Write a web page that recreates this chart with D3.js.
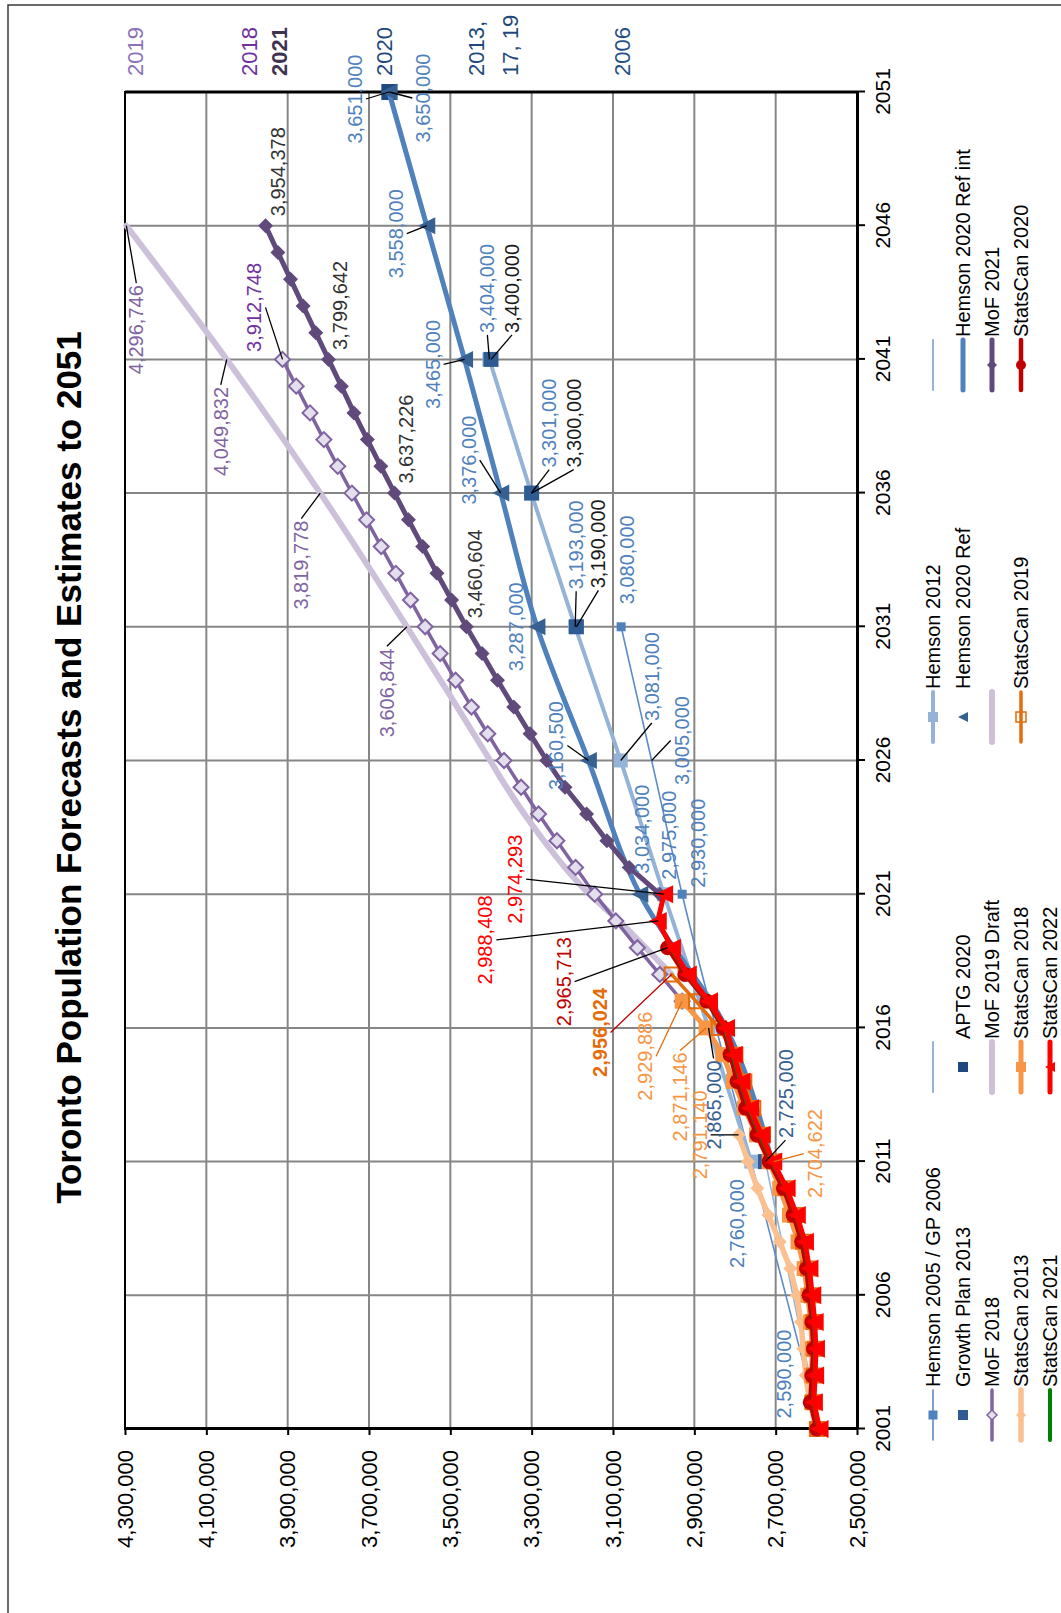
<!DOCTYPE html>
<html>
<head>
<meta charset="utf-8">
<script src="https://cdn.jsdelivr.net/npm/d3@7"></script>
<style>
  html, body { margin: 0; padding: 0; background: #fff; }
  svg { display: block; font-family: "Liberation Sans", Arial, sans-serif; }
</style>
</head>
<body>
<svg id="chart" width="1061" height="1613"></svg>
<script>
// ---------- tick labels ----------
const yearTicks = [2001, 2006, 2011, 2016, 2021, 2026, 2031, 2036, 2041, 2046, 2051];
const valueTicks = [2500000, 2700000, 2900000, 3100000, 3300000, 3500000, 3700000, 3900000, 4100000, 4300000];

// ---------- forecasts ----------
const hemson2005Years = [2001, 2011, 2021, 2026, 2031];
const hemson2005Values = [2590000, 2760000, 2930000, 3005000, 3080000];

const thinAYears = [2001, 2011];
const thinAValues = [2590000, 2725000];

const hemson2012Years = [2011, 2016, 2021, 2026, 2031, 2036, 2041];
const hemson2012Values = [2760000, 2865000, 2975000, 3081000, 3193000, 3301000, 3404000];

const gp2013Years = [2011, 2031, 2036, 2041];
const gp2013Values = [2725000, 3190000, 3300000, 3400000];

const aptg2020Years = [2051];
const aptg2020Values = [3650000];

const hemsonRefYears = [2011, 2016, 2021, 2026, 2031, 2036, 2041, 2046, 2051];
const hemsonRefValues = [2709000, 2822000, 3034000, 3160500, 3287000, 3376000, 3465000, 3558000, 3651000];

const mof2018Years = d3.range(2017, 2042);
const mof2018Values = [2929886, 2985000, 3040000, 3093000, 3145000, 3192000, 3238000, 3283000, 3326000, 3368000,
  3408000, 3448000, 3487000, 3525000, 3562000, 3598000, 3634000, 3670000, 3706000, 3742000,
  3777000, 3811000, 3845000, 3879000, 3912748];

const mof2019Years = [2018, 2019, 2020, 2021, 2022, 2023, 2024, 2025, 2026, 2031, 2036, 2041, 2046];
const mof2019Values = [2956024, 3020000, 3085000, 3158000, 3218000, 3270000, 3318000, 3362000, 3402000,
  3606844, 3819778, 4049832, 4296746];

const mof2021Years = d3.range(2021, 2047);
const mof2021Values = [2985000, 3060000, 3115000, 3165000, 3218000, 3263000, 3304000, 3344000, 3384000, 3422000,
  3460604, 3497000, 3533000, 3568000, 3603000, 3637226, 3671000, 3704000, 3737000, 3768000,
  3799642, 3831000, 3862000, 3893000, 3924000, 3954378];

// ---------- estimates ----------
const sc2013Years = d3.range(2001, 2013);
const sc2013Values = [2600000, 2616000, 2626000, 2632000, 2638000, 2648000, 2664000, 2690000, 2718000, 2745000, 2768000, 2791140];

const sc2018Years = d3.range(2001, 2018);
const sc2018Values = [2600000, 2612000, 2612000, 2610000, 2614000, 2621000, 2630000, 2645000, 2666000, 2690000,
  2716000, 2747000, 2777000, 2804000, 2830000, 2871146, 2929886];

const sc2019Years = d3.range(2001, 2019);
const sc2019Values = [2598000, 2608000, 2606000, 2604000, 2607000, 2612000, 2620000, 2633000, 2652000, 2676000,
  2704622, 2731000, 2755000, 2777000, 2799000, 2840000, 2896000, 2956024];

const sc2020Years = d3.range(2001, 2020);
const sc2020Values = [2599000, 2615000, 2611000, 2607000, 2611000, 2618000, 2624000, 2636000, 2657000, 2681000,
  2716000, 2746000, 2774000, 2795000, 2812000, 2829000, 2869000, 2923000, 2965713];

const sc2021Years = d3.range(2001, 2021);
const sc2021Values = [2594000, 2608000, 2605000, 2603000, 2606000, 2612000, 2619000, 2630000, 2650000, 2675000,
  2709000, 2738000, 2766000, 2787000, 2806000, 2825000, 2866000, 2918000, 2958000, 2988408];

const sc2022Years = d3.range(2001, 2022);
const sc2022Values = [2592000, 2606000, 2603000, 2601000, 2604000, 2610000, 2617000, 2628000, 2648000, 2673000,
  2706000, 2735000, 2763000, 2784000, 2803000, 2822000, 2864000, 2916000, 2955000, 2990000, 2974293];

// ---------- series styling ----------
const series = [
  { key: 'hemson2005', years: hemson2005Years, values: hemson2005Values, color: '#5B8BC9', width: 1.6, smooth: true, marker: 'square', r: 4.5, fill: '#4F81BD', bareYears: [2026] },
  { key: 'thinA', years: thinAYears, values: thinAValues, color: '#95B3D7', width: 1.6, smooth: true },
  { key: 'hemson2012', years: hemson2012Years, values: hemson2012Values, color: '#95B3D7', width: 4, smooth: true, marker: 'square', r: 7, fill: '#95B3D7' },
  { key: 'gp2013', years: gp2013Years, values: gp2013Values, width: 0, marker: 'square', r: 7.5, fill: '#2E5B93' },
  { key: 'aptg2020', years: aptg2020Years, values: aptg2020Values, width: 0, marker: 'square', r: 8, fill: '#1F497D' },
  { key: 'hemsonRefInt', years: hemsonRefYears, values: hemsonRefValues, color: '#4F81BD', width: 5, smooth: true },
  { key: 'hemsonRef', years: hemsonRefYears, values: hemsonRefValues, width: 0, marker: 'triangle', r: 8.5, fill: '#366092' },
  { key: 'mof2019', years: mof2019Years, values: mof2019Values, color: '#CCC0DA', width: 6, smooth: true },
  { key: 'mof2018', years: mof2018Years, values: mof2018Values, color: '#8064A2', width: 3.5, marker: 'diamond', r: 7.5, fill: '#E4DFEC', stroke: '#8064A2' },
  { key: 'mof2021', years: mof2021Years, values: mof2021Values, color: '#604A7B', width: 5, marker: 'diamond', r: 7.5, fill: '#604A7B' },
  { key: 'sc2013', years: sc2013Years, values: sc2013Values, color: '#FAC090', width: 5.5, marker: 'diamond', r: 7, fill: '#FAC090' },
  { key: 'sc2018', years: sc2018Years, values: sc2018Values, color: '#F79646', width: 5, marker: 'square', r: 7.5, fill: '#F79646' },
  { key: 'sc2019', years: sc2019Years, values: sc2019Values, color: '#E46C0A', width: 3.5, marker: 'square', r: 7, fill: 'none', stroke: '#E46C0A' },
  { key: 'sc2020', years: sc2020Years, values: sc2020Values, color: '#C00000', width: 4.5, marker: 'circle', r: 7.5, fill: '#C00000' },
  { key: 'sc2021', years: sc2021Years, values: sc2021Values, color: '#008000', width: 4 },
  { key: 'sc2022', years: sc2022Years, values: sc2022Values, color: '#FF0000', width: 5, marker: 'triangle', r: 9, fill: '#FF0000' }
];
const byKey = Object.fromEntries(series.map(s => [s.key, s]));

// ---------- legend (row by row, four columns) ----------
const legendItems = [
  { name: 'Hemson 2005 / GP 2006', key: 'hemson2005' },
  { name: '', line: '#95B3D7', lw: 2 },
  { name: 'Hemson 2012', key: 'hemson2012' },
  { name: '', line: '#95B3D7', lw: 2 },
  { name: 'Growth Plan 2013', key: 'gp2013' },
  { name: 'APTG 2020', key: 'aptg2020' },
  { name: 'Hemson 2020 Ref', key: 'hemsonRef' },
  { name: 'Hemson 2020 Ref int', key: 'hemsonRefInt' },
  { name: 'MoF 2018', key: 'mof2018' },
  { name: 'MoF 2019 Draft', key: 'mof2019' },
  { name: '', line: '#CCC0DA', lw: 6 },
  { name: 'MoF 2021', key: 'mof2021' },
  { name: 'StatsCan 2013', key: 'sc2013' },
  { name: 'StatsCan 2018', key: 'sc2018' },
  { name: 'StatsCan 2019', key: 'sc2019' },
  { name: 'StatsCan 2020', key: 'sc2020' },
  { name: 'StatsCan 2021', key: 'sc2021' },
  { name: 'StatsCan 2022', key: 'sc2022' }
];

// ---------- edition tags beside the end of each forecast ----------
const editionTags = [
  { lines: ['2019'], key: 'mof2019', shift: 9, color: '#8C72B8' },
  { lines: ['2018'], key: 'mof2018', shift: -33, color: '#7030A0' },
  { lines: ['2021'], key: 'mof2021', shift: 14, color: '#3F3151', bold: true },
  { lines: ['2020'], key: 'aptg2020', shift: -5, color: '#1F497D' },
  { lines: ['2013,', '17, 19'], key: 'gp2013', shift: 2, color: '#1F497D' },
  { lines: ['2006'], key: 'hemson2005', shift: 1, color: '#254F85' }
];

// ---------- value labels: placement relative to the labelled point ----------
// attach: 'u' joins the leader to the label's end, 'v' to its top/bottom edge
const labelSpecs = [
  { key: 'mof2021', year: 2046, dx: 54, dy: 12, color: '#333333' },
  { key: 'mof2021', year: 2041, dx: 54, dy: 12, color: '#333333' },
  { key: 'mof2021', year: 2036, dx: 54, dy: 11, color: '#333333' },
  { key: 'mof2021', year: 2031, dx: 53, dy: 9, color: '#333333' },
  { key: 'mof2019', year: 2046, dx: -104, dy: 10, color: '#8064A2', leader: '#000', attach: 'u' },
  { key: 'mof2019', year: 2041, dx: -72, dy: -6, color: '#8064A2', leader: '#000', attach: 'u' },
  { key: 'mof2019', year: 2036, dx: -72, dy: -19, color: '#8064A2', leader: '#000', attach: 'u' },
  { key: 'mof2019', year: 2031, dx: -66, dy: -20, color: '#8064A2', leader: '#000', attach: 'u' },
  { key: 'mof2018', year: 2041, dx: 52, dy: -28, color: '#7030A0', leader: '#000', attach: 'v' },
  { key: 'aptg2020', year: 2051, dx: -6, dy: 34, color: '#4F81BD', leader: '#000', attach: 'v' },
  { key: 'hemsonRef', year: 2051, dx: -7, dy: -34, color: '#4F81BD', leader: '#000', attach: 'v' },
  { key: 'hemsonRef', year: 2046, dx: -8, dy: -31, color: '#4F81BD', leader: '#000', attach: 'v' },
  { key: 'hemsonRef', year: 2041, dx: -5, dy: -32, color: '#4F81BD', leader: '#000', attach: 'v' },
  { key: 'hemsonRef', year: 2036, dx: 33, dy: -32, color: '#4F81BD', leader: '#000', attach: 'v' },
  { key: 'hemsonRef', year: 2031, dx: 0, dy: -21, color: '#4F81BD' },
  { key: 'hemsonRef', year: 2026, dx: 15, dy: -32, color: '#4F81BD', leader: '#000', attach: 'v' },
  { key: 'hemsonRef', year: 2021, dx: 65, dy: 2, color: '#4F81BD' },
  { key: 'hemson2012', year: 2041, dx: 71, dy: -2, color: '#4F81BD', leader: '#000', attach: 'u' },
  { key: 'gp2013', year: 2041, dx: 71, dy: 21, color: '#1a1a1a', leader: '#000', attach: 'u' },
  { key: 'hemson2012', year: 2036, dx: 70, dy: 18, color: '#4F81BD', leader: '#000', attach: 'u' },
  { key: 'gp2013', year: 2036, dx: 70, dy: 42, color: '#1a1a1a', leader: '#000', attach: 'u' },
  { key: 'hemson2012', year: 2031, dx: 82, dy: 1, color: '#4F81BD', leader: '#000', attach: 'u' },
  { key: 'gp2013', year: 2031, dx: 83, dy: 22, color: '#1a1a1a', leader: '#000', attach: 'u' },
  { key: 'hemson2012', year: 2026, dx: 84, dy: 31, color: '#4F81BD', leader: '#000', attach: 'u' },
  { key: 'hemson2005', year: 2026, dx: 20, dy: 30, color: '#4F81BD', leader: '#000', attach: 'v' },
  { key: 'hemson2012', year: 2021, dx: 59, dy: 5, color: '#4F81BD' },
  { key: 'hemson2005', year: 2021, dx: 51, dy: 16, color: '#4F81BD' },
  { key: 'hemson2005', year: 2031, dx: 67, dy: 6, color: '#4F81BD' },
  { key: 'hemson2012', year: 2016, dx: -77, dy: 5, color: '#376092', leader: '#000', attach: 'u' },
  { key: 'hemson2005', year: 2011, dx: -62, dy: -14, color: '#4F81BD' },
  { key: 'hemson2005', year: 2001, dx: 55, dy: -36, color: '#4F81BD' },
  { key: 'gp2013', year: 2011, dx: 68, dy: 20, color: '#376092', leader: '#000', attach: 'u' },
  { key: 'sc2019', year: 2011, dx: 8, dy: 41, color: '#F79646', leader: '#E46C0A', attach: 'v' },
  { key: 'sc2013', year: 2012, dx: 0, dy: -39, color: '#F79646', leader: '#000', attach: 'v' },
  { key: 'sc2018', year: 2016, dx: -69, dy: -26, color: '#F79646', leader: '#E46C0A', attach: 'u' },
  { key: 'sc2018', year: 2017, dx: -55, dy: -37, color: '#F79646', leader: '#E46C0A', attach: 'v' },
  { key: 'sc2019', year: 2018, dx: -58, dy: -72, color: '#E46C0A', leader: '#C00000', attach: 'v', bold: true },
  { key: 'sc2020', year: 2019, dx: -34, dy: -104, color: '#C00000', leader: '#000', attach: 'v' },
  { key: 'sc2021', year: 2020, dx: -19, dy: -173, color: '#FF0000', leader: '#000', attach: 'v' },
  { key: 'sc2022', year: 2021, dx: 15, dy: -149, color: '#FF0000', leader: '#000', attach: 'v' }
];

// ---------- drawing ----------
const W = 1337, H = 732;           // plot extent in the chart's own (unrotated) frame
const FONT = '"Liberation Sans", Arial, sans-serif';
const svg = d3.select('#chart');

svg.append('rect').attr('width', 1061).attr('height', 1613).attr('fill', '#fff');
// outer frame of the chart area
svg.append('rect').attr('x', 8).attr('y', 5).attr('width', 1200).attr('height', 1800)
  .attr('fill', 'none').attr('stroke', '#3a3a3a').attr('stroke-width', 1.5);

// the whole chart is laid out normally and then turned a quarter turn
const g = svg.append('g').attr('transform', 'translate(125,1429) rotate(-90)');

const x = d3.scaleLinear().domain([2001, 2051]).range([0, W]);
const y = d3.scaleLinear().domain([2500000, 4300000]).range([H, 0]);
const fmt = d3.format(',');

// gridlines
g.append('g').selectAll('line').data(valueTicks).join('line')
  .attr('x1', 0).attr('x2', W).attr('y1', d => y(d)).attr('y2', d => y(d))
  .attr('stroke', '#868686').attr('stroke-width', 2);
g.append('g').selectAll('line').data(yearTicks).join('line')
  .attr('x1', d => x(d)).attr('x2', d => x(d)).attr('y1', 0).attr('y2', H)
  .attr('stroke', '#868686').attr('stroke-width', 2);

g.append('rect').attr('width', W).attr('height', H).attr('fill', 'none')
  .attr('stroke', '#000').attr('stroke-width', 2);
g.append('line').attr('x1', W).attr('x2', W).attr('y1', 0).attr('y2', H)
  .attr('stroke', '#000').attr('stroke-width', 3);

// axes
const xAxis = g.append('g').attr('transform', `translate(0,${H})`)
  .call(d3.axisBottom(x).tickValues(yearTicks).tickFormat(d3.format('d'))
    .tickSizeInner(8).tickSizeOuter(0).tickPadding(10));
const yAxis = g.append('g')
  .call(d3.axisLeft(y).tickValues(valueTicks).tickFormat(fmt)
    .tickSizeInner(6).tickSizeOuter(0).tickPadding(15));
[xAxis, yAxis].forEach(a => {
  a.attr('font-family', FONT);
  a.select('.domain').attr('stroke', '#000').attr('stroke-width', 3);
  a.selectAll('.tick line').attr('stroke', '#000').attr('stroke-width', 2);
  a.selectAll('.tick text').attr('fill', '#000');
});
xAxis.attr('font-size', 21);
yAxis.attr('font-size', 22);

// markers
function markerPath(shape, r) {
  switch (shape) {
    case 'square': return `M${-r},${-r}H${r}V${r}H${-r}Z`;
    case 'diamond': return `M0,${-r}L${r},0L0,${r}L${-r},0Z`;
    case 'triangle': return `M0,${-r}L${r},${r}L${-r},${r}Z`;
    case 'circle': return `M${r},0A${r},${r} 0 1,1 ${-r},0A${r},${r} 0 1,1 ${r},0Z`;
  }
  return '';
}

const plot = g.append('g');
series.forEach(s => {
  const pts = s.years.map((yr, i) => [x(yr), y(s.values[i]), yr]);
  if (s.width > 0) {
    const line = d3.line().curve(s.smooth ? d3.curveMonotoneX : d3.curveLinear);
    plot.append('path').attr('d', line(pts.map(p => [p[0], p[1]]))).attr('fill', 'none')
      .attr('stroke', s.color).attr('stroke-width', s.width)
      .attr('stroke-linejoin', 'round').attr('stroke-linecap', 'round');
  }
  if (s.marker) {
    const marked = pts.filter(p => !(s.bareYears || []).includes(p[2]));
    plot.append('g').selectAll('path').data(marked).join('path')
      .attr('transform', d => `translate(${d[0]},${d[1]})`)
      .attr('d', markerPath(s.marker, s.r))
      .attr('fill', s.fill)
      .attr('stroke', s.stroke || 'none')
      .attr('stroke-width', s.stroke ? 2 : 0);
  }
});

// value labels with leader lines
const labelLayer = g.append('g').attr('font-family', FONT).attr('font-size', 20);
labelSpecs.forEach(spec => {
  const s = byKey[spec.key];
  const idx = s.years.indexOf(spec.year);
  const v = s.values[idx];
  const px = x(spec.year), py = y(v);
  const cx = px + spec.dx, cy = py + spec.dy;
  const t = labelLayer.append('text').attr('x', cx).attr('y', cy).attr('dy', '0.35em')
    .attr('text-anchor', 'middle').attr('fill', spec.color)
    .attr('font-weight', spec.bold ? 'bold' : null).text(fmt(v));
  if (spec.leader) {
    const hw = t.node().getComputedTextLength() / 2 + 2, hh = 11;
    const ex = spec.attach === 'u' ? cx + Math.sign(px - cx) * hw : cx;
    const ey = spec.attach === 'u' ? cy : cy + Math.sign(py - cy) * hh;
    if (Math.hypot(ex - px, ey - py) > 3) {
      labelLayer.insert('line', 'text').attr('x1', px).attr('y1', py).attr('x2', ex).attr('y2', ey)
        .attr('stroke', spec.leader).attr('stroke-width', 1.3);
    }
  }
});

// edition tags past the last year
const tagLayer = g.append('g').attr('font-family', FONT).attr('font-size', 22);
editionTags.forEach(tag => {
  const s = byKey[tag.key];
  const last = s.values[s.values.length - 1];
  const cy = y(last) + tag.shift;
  const n = tag.lines.length;
  tag.lines.forEach((ln, i) => {
    tagLayer.append('text').attr('x', W + 16).attr('y', cy + (i - (n - 1) / 2) * 34).attr('dy', '0.35em')
      .attr('fill', tag.color).attr('font-weight', tag.bold ? 'bold' : null).text(ln);
  });
});

// title
g.append('text').attr('x', W / 2 - 7).attr('y', -44).attr('text-anchor', 'middle')
  .attr('font-family', FONT).attr('font-size', 35).attr('font-weight', 'bold').attr('fill', '#000')
  .text('Toronto Population Forecasts and Estimates to 2051');

// legend
const legend = g.append('g').attr('font-family', FONT).attr('font-size', 20);
const colU = [14, 362, 712, 1064];
const rowV = [808, 838, 867, 896, 925];
legendItems.forEach((item, i) => {
  const u = colU[i % 4], v = rowV[Math.floor(i / 4)];
  const s = item.key ? byKey[item.key] : null;
  const lineColor = s ? s.color : item.line;
  const lw = s ? s.width : item.lw;
  if (lineColor && lw > 0) {
    legend.append('line').attr('x1', u - 25).attr('x2', u + 25).attr('y1', v).attr('y2', v)
      .attr('stroke', lineColor).attr('stroke-width', lw).attr('stroke-linecap', 'round');
  }
  if (s && s.marker) {
    legend.append('path').attr('transform', `translate(${u},${v})`)
      .attr('d', markerPath(s.marker, Math.min(s.r, 5)))
      .attr('fill', s.fill).attr('stroke', s.stroke || 'none').attr('stroke-width', s.stroke ? 1.5 : 0);
  }
  if (item.name) {
    legend.append('text').attr('x', u + 28).attr('y', v).attr('dy', '0.35em')
      .attr('fill', '#000').text(item.name);
  }
});
</script>
</body>
</html>
